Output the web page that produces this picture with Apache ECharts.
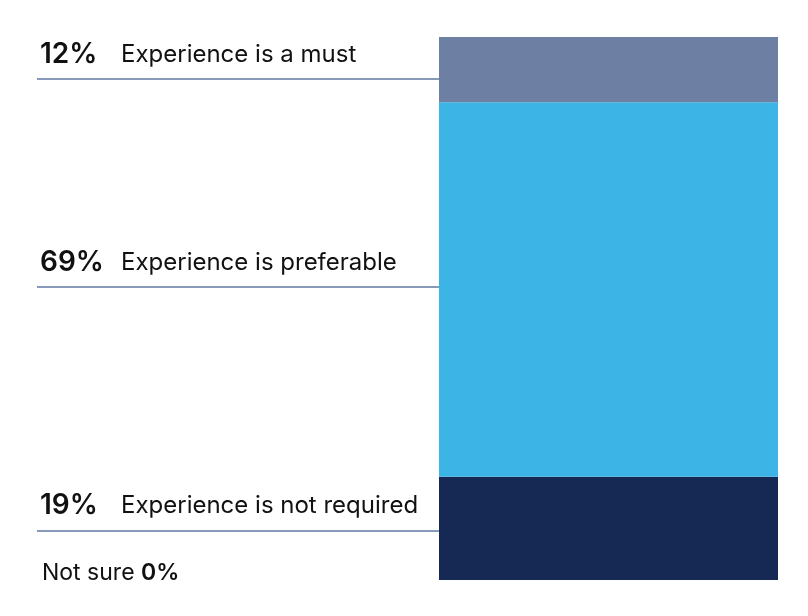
<!DOCTYPE html>
<html><head><meta charset="utf-8">
<script src="https://cdn.jsdelivr.net/npm/echarts@6/dist/echarts.min.js"></script>
<style>html,body{margin:0;padding:0;background:#fff}#c{width:808px;height:616px}</style>
</head><body><div id="c"></div>
<script>
var categories = ['All'];
var seriesNames = ['Experience is not required', 'Experience is preferable', 'Experience is a must'];
var seriesValues = [19, 69, 12];
var notSureValue = 0;
var colors = ['#162955', '#3db4e6', '#6d7fa3'];

var chart = echarts.init(document.getElementById('c'));
var series = seriesNames.map(function (n, i) {
  return { name: n, type: 'bar', stack: 'total', data: [seriesValues[i]], barWidth: '100%',
    itemStyle: { color: colors[i] }, silent: true };
});
chart.setOption({
  animation: false,
  grid: { left: 439, right: 30, top: 37, bottom: 36 },
  xAxis: { type: 'category', data: categories, show: false },
  yAxis: { type: 'value', min: 0, max: 100, show: false },
  series: series
});

var F = 'Inter, "Noto Sans", sans-serif';
var annot = [
  { i: 2, textY: 55, lineY: 79 },
  { i: 1, textY: 263, lineY: 287 },
  { i: 0, textY: 506, lineY: 531 }
];
var g = [];
annot.forEach(function (a) {
  g.push({ type: 'text', x: 40, y: a.textY, style: {
    text: seriesValues[a.i] + '%', font: '600 28px ' + F, fill: '#111',
    verticalAlign: 'middle', textVerticalAlign: 'middle' } });
  g.push({ type: 'text', x: 121, y: a.textY, style: {
    text: seriesNames[a.i], font: '400 24px ' + F, fill: '#111',
    verticalAlign: 'middle', textVerticalAlign: 'middle' } });
  g.push({ type: 'line', shape: { x1: 37, y1: a.lineY, x2: 439, y2: a.lineY },
    style: { stroke: '#5f78a3', lineWidth: 1.5 } });
});
g.push({ type: 'text', x: 42, y: 573, style: {
  text: '{a|Not sure }{b|' + notSureValue + '%}',
  verticalAlign: 'middle', textVerticalAlign: 'middle',
  rich: { a: { fontFamily: F, fontSize: 23, fill: '#111' }, b: { fontFamily: F, fontSize: 23, fontWeight: 600, fill: '#111' } } } });
chart.setOption({ graphic: g });
</script></body></html>
